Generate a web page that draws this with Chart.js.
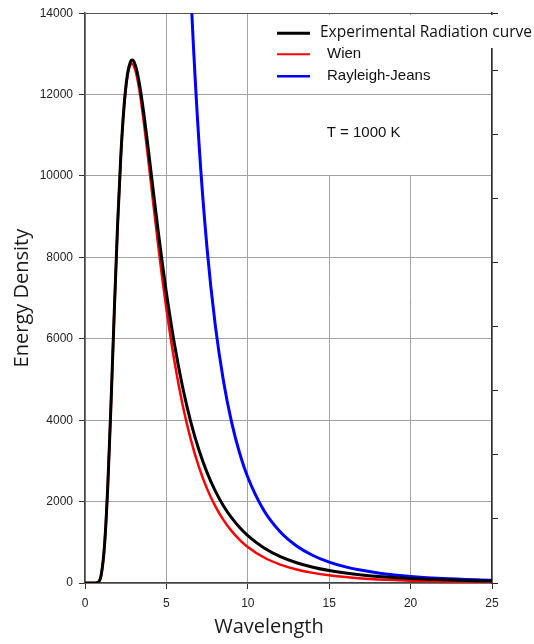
<!DOCTYPE html>
<html>
<head>
<meta charset="utf-8">
<script src="https://cdn.jsdelivr.net/npm/chart.js@4.4.0/dist/chart.umd.min.js"></script>
<style>
    html, body { margin: 0; padding: 0; background: #fff; }
    canvas { display: block; }
</style>
</head>
<body>
<canvas id="radiation_chart" width="534" height="644"></canvas>
<script>
// wavelength samples
var wavelengths = [0, 0.5, 0.8, 1.0, 1.2, 1.4, 1.6, 1.8, 2.0, 2.2, 2.4, 2.6, 2.8, 2.9, 3.0, 3.2, 3.4, 3.6, 3.8, 4.0,
    4.25, 4.5, 4.75, 5, 5.5, 6, 6.5, 7, 7.5, 8, 8.5, 9, 9.5, 10, 11, 12, 13, 14, 15, 16, 17, 18, 19, 20, 22, 25];

// energy density for each curve at those wavelengths
var experimental = [0, 0, 18, 211, 932, 2392, 4433, 6683, 8780, 10492, 11724, 12480, 12815, 12850, 12817, 12562, 12127, 11572, 10947, 10286,
    9449, 8632, 7855, 7133, 5857, 4807, 3954, 3266, 2711, 2263, 1900, 1604, 1362, 1162, 860, 648, 497, 387, 306, 245, 198, 162, 133, 111, 79, 49];
var wien = [0, 0, 18, 211, 932, 2392, 4432, 6681, 8773, 10477, 11695, 12431, 12740, 12760, 12711, 12422, 11951, 11359, 10699, 10004,
    9129, 8279, 7475, 6732, 5429, 4370, 3522, 2848, 2313, 1888, 1550, 1280, 1062, 886, 627, 453, 333, 249, 189, 145, 113, 89, 71, 57, 38, 22];
var rayleighJeans = [null, null, null, null, null, null, null, null, null, null, null, null, null, null, null, null, null, null, null, null,
    null, null, null, null, null, 20046, 14554, 10821, 8211, 6343, 4977, 3960, 3190, 2598, 1774, 1253, 910, 676, 513, 396, 311, 247, 199, 162, 111, 67];

var seriesLabels = ["Experimental Radiation curve", "Wien", "Rayleigh-Jeans"];
var seriesColors = ["#000000", "#ff0000", "#0000ff"];
var xTicks = [0, 5, 10, 15, 20, 25];
var yTicks = [0, 2000, 4000, 6000, 8000, 10000, 12000, 14000];
var tempText = "T = 1000 K";
var xTitle = "Wavelength";
var yTitle = "Energy Density";

function toPoints(values) {
    var pts = [];
    for (var i in wavelengths) {
        if (values[i] !== null) {
            pts.push({ x: wavelengths[i], y: values[i] });
        }
    }
    return pts;
}

var tickFont = { family: "'Liberation Sans', Arial, sans-serif", size: 12 };
var gridGrey = '#a3a3a3';

// white panel behind the legend and the temperature note, plus the legend itself
var legendPanel = {
    id: 'legendPanel',
    beforeDatasetsDraw: function (chart) {
        var ctx = chart.ctx, area = chart.chartArea;
        var xs = chart.scales.x, ys = chart.scales.y;
        var left = Math.floor(xs.getPixelForValue(12.5));
        var top = Math.ceil(area.top) + 1;
        var y12 = Math.floor(ys.getPixelForValue(12000));
        var y10 = Math.floor(ys.getPixelForValue(10000));
        var right = Math.floor(area.right) - 1;
        ctx.save();
        ctx.fillStyle = '#ffffff';
        ctx.fillRect(left, top, right - left, y12 - top);
        ctx.fillRect(left, y12 + 1, right - left, y10 - y12 - 1);
        ctx.fillRect(right - 1, top, 8, 33);
        ctx.restore();
    },
    afterDatasetsDraw: function (chart) {
        var ctx = chart.ctx, area = chart.chartArea;
        var xs = chart.scales.x, ys = chart.scales.y;
        var lx = area.right - 215;
        var rows = [area.top + 20, area.top + 41, area.top + 63];
        var widths = [3, 2, 2.5];
        ctx.save();
        ctx.textBaseline = 'middle';
        ctx.fillStyle = '#111';
        chart.data.datasets.forEach(function (ds, i) {
            ctx.strokeStyle = ds.borderColor;
            ctx.lineWidth = widths[i];
            ctx.beginPath();
            ctx.moveTo(lx, rows[i]);
            ctx.lineTo(lx + 33, rows[i]);
            ctx.stroke();
            if (i === 0) {
                ctx.font = "15.5px 'Open Sans', sans-serif";
                ctx.fillText(ds.label, lx + 43, rows[i] - 1);
            } else {
                ctx.font = "15px 'Liberation Sans', Arial, sans-serif";
                ctx.fillText(ds.label, lx + 50, rows[i]);
            }
        });
        ctx.font = "15px 'Liberation Sans', Arial, sans-serif";
        ctx.fillText(tempText, xs.getPixelForValue(14.85), ys.getPixelForValue(11070));
        // x axis title, set a little left of the axis centre as in the source
        ctx.font = "20px 'Open Sans', sans-serif";
        ctx.textAlign = 'center';
        ctx.fillStyle = '#1a1a1a';
        ctx.fillText(xTitle, xs.getPixelForValue(11.3), xs.bottom - 17);
        ctx.restore();
    }
};

var ctx = document.getElementById('radiation_chart');

var chart = new Chart(ctx, {
    type: 'line',
    data: {
        datasets: [
            {
                label: seriesLabels[0],
                data: toPoints(experimental),
                borderColor: seriesColors[0],
                borderWidth: 3
            },
            {
                label: seriesLabels[1],
                data: toPoints(wien),
                borderColor: seriesColors[1],
                borderWidth: 2.5
            },
            {
                label: seriesLabels[2],
                data: toPoints(rayleighJeans),
                borderColor: seriesColors[2],
                borderWidth: 3
            }
        ]
    },
    options: {
        responsive: false,
        animation: false,
        layout: { padding: { top: 13, left: 0, right: 0, bottom: 0 } },
        elements: {
            point: { radius: 0 },
            line: { cubicInterpolationMode: 'monotone', fill: false }
        },
        plugins: {
            legend: { display: false },
            tooltip: { enabled: false }
        },
        scales: {
            x: {
                type: 'linear',
                min: xTicks[0],
                max: xTicks[xTicks.length - 1],
                afterBuildTicks: function (scale) {
                    scale.ticks = xTicks.map(function (v) { return { value: v }; });
                },
                afterFit: function (scale) { scale.height = 61; },
                grid: { color: gridGrey, tickColor: '#333', tickLength: 6 },
                border: { color: '#444', width: 1.5 },
                ticks: {
                    font: tickFont, color: '#222', padding: 7, maxRotation: 0,
                    callback: function (v) { return String(v); }
                }
            },
            y: {
                position: 'left',
                min: yTicks[0],
                max: yTicks[yTicks.length - 1],
                afterBuildTicks: function (scale) {
                    scale.ticks = yTicks.map(function (v) { return { value: v }; });
                },
                afterFit: function (scale) { scale.width = 85; },
                grid: {
                    color: function (c) { return c.tick && c.tick.value === yTicks[yTicks.length - 1] ? '#555' : gridGrey; },
                    tickColor: '#333',
                    tickLength: 6
                },
                border: { color: '#444', width: 1.5 },
                ticks: {
                    font: tickFont, color: '#222', padding: 6,
                    callback: function (v) { return String(v); }
                },
                title: {
                    display: true,
                    text: yTitle,
                    color: '#1a1a1a',
                    font: { family: "'Open Sans', sans-serif", size: 20 },
                    padding: { top: 10, bottom: 0 }
                }
            },
            y2: {
                position: 'right',
                min: 0,
                max: 8.9,
                ticks: { stepSize: 1, display: false },
                afterFit: function (scale) { scale.width = 42; },
                grid: { drawOnChartArea: false, tickColor: '#222', tickLength: 6 },
                border: { color: '#333', width: 1.5 }
            }
        }
    },
    plugins: [legendPanel]
});
</script>
</body>
</html>
